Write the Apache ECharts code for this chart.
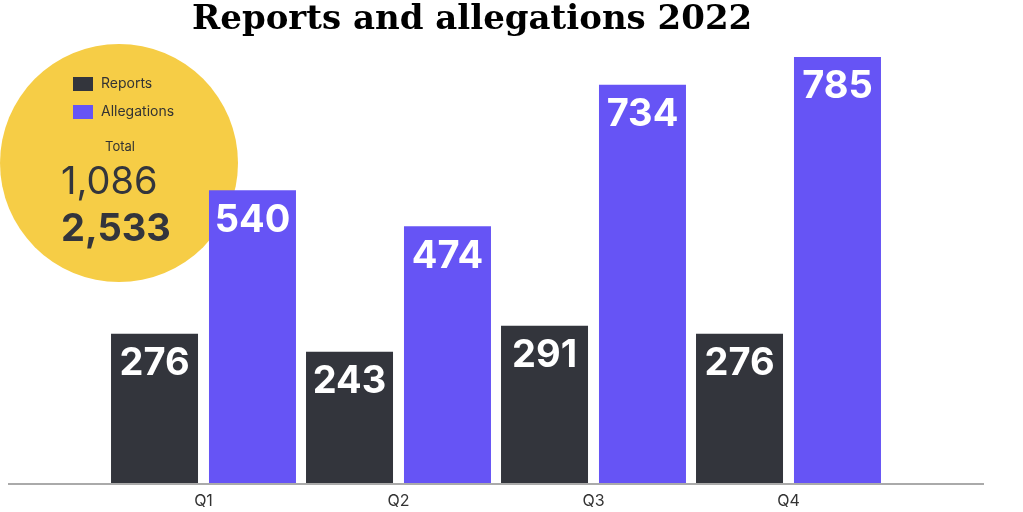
<!DOCTYPE html>
<html><head><meta charset="utf-8">
<script src="https://cdn.jsdelivr.net/npm/echarts@6/dist/echarts.min.js"></script>
<style>html,body{margin:0;padding:0;background:#fff}#c{width:1023px;height:512px}</style>
</head><body><div id="c"></div>
<script>
const categories = ['Q1', 'Q2', 'Q3', 'Q4'];
const reports = [276, 243, 291, 276];
const allegations = [540, 474, 734, 785];
const seriesNames = ['Reports', 'Allegations'];
const titleText = 'Reports and allegations 2022';
const totalLabel = 'Total';

const DARK = '#33353c';
const PURPLE = '#6654f5';
const YELLOW = '#f6cd46';
const sum = a => a.reduce((s, v) => s + v, 0);
const fmt = n => n.toLocaleString('en-US');

const chart = echarts.init(document.getElementById('c'), null, {renderer: 'canvas'});
const labelStyle = {
  show: true, position: 'insideTop', distance: 11,
  color: '#fff', fontFamily: 'Inter', fontWeight: 'bold', fontSize: 38
};
chart.setOption({
  animation: false,
  backgroundColor: '#fff',
  title: {
    text: titleText, left: 192, top: 3, padding: 0,
    textStyle: {fontFamily: 'DejaVu Serif', fontWeight: 'bold', fontSize: 34, color: '#000'}
  },
  grid: {left: 106, right: 137, top: 57, bottom: 28},
  xAxis: {
    type: 'category', data: categories,
    axisLine: {show: false}, axisTick: {show: false},
    axisLabel: {color: '#333', fontFamily: 'Inter', fontSize: 16, margin: 9}
  },
  yAxis: {type: 'value', min: 0, max: 785, show: false, splitLine: {show: false}},
  legend: {
    left: 73, top: 77, padding: 0, orient: 'vertical', itemWidth: 20, itemHeight: 14, itemGap: 14,
    icon: 'rect', textStyle: {fontFamily: 'Inter', fontSize: 14, color: '#333', padding: [0, 0, 0, 3]},
    data: seriesNames
  },
  graphic: [
    {type: 'circle', z: 0, shape: {cx: 119, cy: 163, r: 119}, style: {fill: YELLOW}, silent: true},
    {type: 'line', z: 10, shape: {x1: 8, y1: 484, x2: 984, y2: 484}, style: {stroke: '#aaaaaa', lineWidth: 2}},
    {type: 'text', z: 10, left: 105, top: 141, style: {text: totalLabel, font: '13px Inter', fill: '#333'}},
    {type: 'text', z: 10, left: 61, top: 164, style: {text: fmt(sum(reports)), font: '38px Inter', fill: '#33353c'}},
    {type: 'text', z: 10, left: 61, top: 211, style: {text: fmt(sum(allegations)), font: 'bold 38px Inter', fill: '#33353c'}}
  ],
  series: [
    {name: seriesNames[0], type: 'bar', data: reports, barWidth: 87, barGap: '12.6%',
     itemStyle: {color: DARK}, label: labelStyle, z: 5},
    {name: seriesNames[1], type: 'bar', data: allegations, barWidth: 87,
     itemStyle: {color: PURPLE}, label: labelStyle, z: 5}
  ]
});
</script></body></html>
